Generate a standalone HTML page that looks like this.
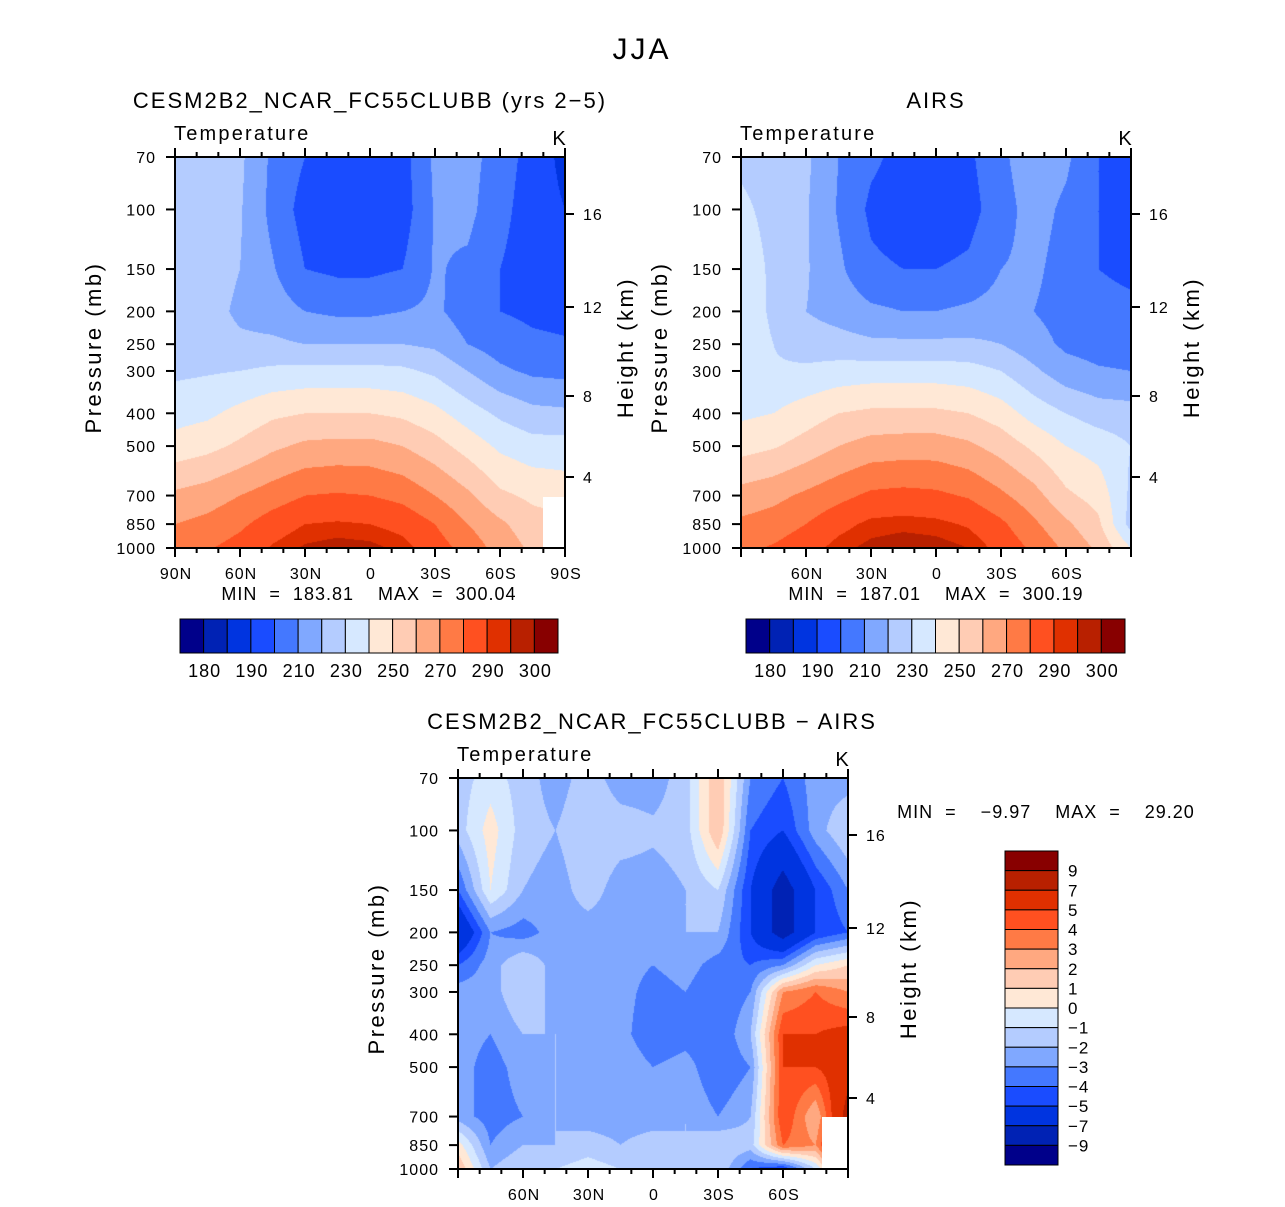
<!DOCTYPE html>
<html><head><meta charset="utf-8"><style>
body{margin:0;background:#fff;width:1285px;height:1207px;overflow:hidden;position:relative;font-family:"Liberation Sans",sans-serif}
canvas{position:absolute}
svg{position:absolute;left:0;top:0}
text{font-family:"Liberation Sans",sans-serif;fill:#000;white-space:pre}
</style></head><body>
<canvas id="c1" width="390" height="391" style="left:175px;top:157px"></canvas>
<canvas id="c2" width="390" height="391" style="left:741px;top:157px"></canvas>
<canvas id="c3" width="390" height="391" style="left:458px;top:778px"></canvas>
<svg id="svg" width="1285" height="1207"></svg>
<script>
// ---- data ----
const lats = [90,75,60,45,30,15,0,-15,-30,-45,-60,-75,-90];
const plevs = [70,100,150,200,250,300,400,500,700,850,1000];
const tempLevels = [180,185,190,200,210,220,230,240,250,260,270,280,290,295,300];
const tempTickLabels = ["180","190","210","230","250","270","290","300"];
const diffLevels = [-9,-7,-5,-4,-3,-2,-1,0,1,2,3,4,5,7,9];
const diffTickLabels = ["9","7","5","4","3","2","1","0","−1","−2","−3","−4","−5","−7","−9"];
const modelT = [
[225,225,222,208,200,195,194,196,212,214,205,196,187],
[225,225,221,207,196,193,192,195,211,213,203,195,190],
[225,225,220,211,200,198,198,200,211,208,200,195,194],
[225,224,218,215,210,208,208,210,212,205,200,198,197],
[226,225,222,222,220,220,220,220,218,210,205,202,201],
[228,229,230,232,233,233,233,232,228,220,212,208,207],
[236,238,243,248,250,250,250,248,243,235,228,223,222],
[244,247,252,258,262,263,263,260,254,246,238,234,234],
[262,265,270,275,280,281,280,277,270,262,252,248,246],
[270,273,278,285,290,291,290,287,280,270,262,254,252],
[276,279,284,291,296,298,297,293,285,276,266,258,256]];
const airsT = [
[228,226,222,210,202,197,196,198,208,216,212,200,192],
[232,227,221,209,198,194,193,196,206,214,208,200,195],
[236,228,221,212,202,200,200,202,210,212,206,200,198],
[237,228,220,216,212,210,210,212,214,210,206,203,202],
[236,230,225,224,222,222,222,222,220,214,208,206,205],
[234,231,232,234,235,235,235,234,230,222,214,211,210],
[238,240,245,250,252,252,252,250,245,236,230,225,224],
[246,249,254,260,264,265,265,262,256,248,240,236,230],
[264,267,272,277,282,283,282,279,272,264,252,246,228],
[272,275,280,287,292,293,292,289,282,272,262,252,226],
[278,281,286,293,297,299,298,295,287,278,268,258,240]];
const diffT = [
[-1.5,-0.5,-1.5,-2.5,-1.5,-2.5,-2.5,-1.5,2,-3,-4,-2.5,-2.5],
[-1.5,0.5,-1.5,-2,-1.2,-1.5,-1.8,-1.5,2,-4,-5,-2.5,-1],
[-4,0,-2,-2.5,-1.5,-2.5,-2.5,-2,-1,-5,-8,-5,-3],
[-7,-3,-3.5,-2.5,-2.5,-2.5,-2.5,-2,-2,-5,-8,-5,-4],
[-4,-2.5,-1,-2.5,-2.5,-2.5,-3,-2.5,-3.5,-4,-3,0,1],
[-2.5,-2.5,-1,-2.5,-2,-2.5,-3.5,-3,-4,-3,3,4,3],
[-2.5,-3,-2,-2,-2.5,-2.5,-4,-3.5,-4,-2,5,5,5.5],
[-2.5,-3.5,-2.5,-2,-2,-2,-3,-2.5,-4,-3,5,5,6],
[-2.5,-3.5,-3,-2,-2.5,-2.5,-2.5,-2,-3,-2,5,2,8],
[0.5,-3,-2,-2,-1.5,-2,-1.5,-2,-1,-1.5,4,3,9],
[2,-2,-1,-1,-0.5,-1,-1,-1,-1,-4,-5,-1,5]];
const palette = ["#00008a","#0022b4","#0034e0","#1a4cff","#4478ff","#80a8ff","#b4ccff","#d6e8ff","#ffe8d6","#ffccb4","#ffa880","#ff7a45","#ff5020","#e03000","#b82000","#880000"];

// ---- scales ----
const W=390,H=391;
function xOfLat(lat){return (90-lat)/180*W;}
function yOfP(p){return Math.log(p/70)/Math.log(1000/70)*H;}
function rgb(h){return [parseInt(h.substr(1,2),16),parseInt(h.substr(3,2),16),parseInt(h.substr(5,2),16)];}
const pal = palette.map(rgb);
function colorIdx(v,levels){let i=0;while(i<levels.length&&v>=levels[i])i++;return i;}
function drawField(id,grid,levels){
  const cv=document.getElementById(id),ctx=cv.getContext('2d');
  const img=ctx.createImageData(W,H);
  const ly=plevs.map(yOfP), lx=lats.map(xOfLat);
  for(let py=0;py<H;py++){
    let r=0;while(r<plevs.length-2&&py+0.5>ly[r+1])r++;
    const ty=Math.min(1,Math.max(0,(py+0.5-ly[r])/(ly[r+1]-ly[r])));
    for(let px=0;px<W;px++){
      let c=0;while(c<lats.length-2&&px+0.5>lx[c+1])c++;
      const tx=Math.min(1,Math.max(0,(px+0.5-lx[c])/(lx[c+1]-lx[c])));
      const v=(grid[r][c]*(1-tx)+grid[r][c+1]*tx)*(1-ty)+(grid[r+1][c]*(1-tx)+grid[r+1][c+1]*tx)*ty;
      const col=pal[colorIdx(v,levels)],k=(py*W+px)*4;
      img.data[k]=col[0];img.data[k+1]=col[1];img.data[k+2]=col[2];img.data[k+3]=255;
    }
  }
  ctx.putImageData(img,0,0);
}
drawField('c1',modelT,tempLevels);
drawField('c2',airsT,tempLevels);
drawField('c3',diffT,diffLevels);

// ---- svg ----
const svg=document.getElementById('svg'),NS='http://www.w3.org/2000/svg';
function el(tag,attrs,txt){const e=document.createElementNS(NS,tag);for(const k in attrs)e.setAttribute(k,attrs[k]);if(txt!==undefined)e.textContent=txt;svg.appendChild(e);return e;}
function txt(x,y,s,size,anchor,name,rot,ls){const t=el('text',{x:x,y:y,'font-size':size,'text-anchor':anchor||'middle','letter-spacing':ls||0},s);
  if(rot)t.setAttribute('transform','rotate(-90 '+x+' '+y+')');
  
  return t;}
const latLabels={90:"90N",60:"60N",30:"30N",0:"0","-30":"30S","-60":"60S","-90":"90S"};
const pLabels=[70,100,150,200,250,300,400,500,700,850,1000];
const kmTicks=[4,8,12,16];
const kmFrac=[320/391,239/391,150/391,57/391];
function panel(x0,y0,title,showEnds,tx){
  if(title)txt(tx,y0-49,title,22,'middle','panel-title',false,2);
  txt(x0-1,y0-17,"Temperature",20,'start','variable-label',false,2.2);
  txt(x0+W-6,y0-12,"K",20,'middle','units-label');
  for(let lat=90;lat>=-90;lat-=10){
    const x=x0+xOfLat(lat),maj=lat%30===0,L=maj?9:5;
    const t1=el('line',{x1:x,y1:y0,x2:x,y2:y0-L,stroke:'#000','stroke-width':2});
    
    const t2=el('line',{x1:x,y1:y0+H,x2:x,y2:y0+H+L,stroke:'#000','stroke-width':2});
    
    if(maj&&(showEnds||Math.abs(lat)<90))txt(x+1,y0+H+31,latLabels[lat],16,'middle','x-tick-label',false,1);
  }
  pLabels.forEach(p=>{const y=y0+yOfP(p);
    const t=el('line',{x1:x0,y1:y,x2:x0-9,y2:y,stroke:'#000','stroke-width':2});
    
    txt(x0-19,y+6,String(p),16,'end','y-tick-label',false,1);});
  kmTicks.forEach((k,i)=>{const y=y0+kmFrac[i]*H;
    const t=el('line',{x1:x0+W,y1:y,x2:x0+W+9,y2:y,stroke:'#000','stroke-width':2});
    
    txt(x0+W+18,y+6,String(k),16,'start','height-tick-label',false,1);});
  txt(x0-74,y0+H/2-5,"Pressure (mb)",22,'middle','y-axis-title',true,2.5);
  txt(x0+W+68,y0+H/2-5,"Height (km)",22,'middle','height-axis-title',true,2.5);
}
txt(642,59,"JJA",30,'middle','figure-title',false,3);
panel(175,157,"CESM2B2_NCAR_FC55CLUBB (yrs 2−5)",true,370);
panel(741,157,"AIRS",false,936);
panel(458,778,"CESM2B2_NCAR_FC55CLUBB − AIRS",false,652);
// missing-data masks
[[543,497,22,51],[822,1117,26,51]].forEach(r=>{const m=el('rect',{x:r[0],y:r[1],width:r[2],height:r[3],fill:'#fff'});
  });
[[175,157],[741,157],[458,778]].forEach(p=>{const f=el('rect',{x:p[0],y:p[1],width:W,height:H,fill:'none',stroke:'#000','stroke-width':2});
  });
txt(369,600,"MIN  =  183.81    MAX  =  300.04",18,'middle','min-max-label',false,1);
txt(936,600,"MIN  =  187.01    MAX  =  300.19",18,'middle','min-max-label',false,1);
txt(1046,818,"MIN  =    −9.97    MAX  =    29.20",18,'middle','min-max-label',false,1);
// horizontal colorbars
function hbar(x0,y0,w,h){
  const bw=w/palette.length;
  palette.forEach((c,i)=>{const r=el('rect',{x:x0+i*bw,y:y0,width:bw,height:h,fill:c,stroke:'#000','stroke-width':1});
    });
  tempTickLabels.forEach((s,i)=>txt(x0+(2*i+1)*bw+1,y0+h+24,s,18,'middle','colorbar-label',false,1));
}
hbar(180,619,378,34);
hbar(746,619,379,34);
// vertical colorbar
(function(){const x0=1005,y0=851,w=53,h=314,bh=h/palette.length;
  palette.slice().reverse().forEach((c,i)=>{const r=el('rect',{x:x0,y:y0+i*bh,width:w,height:bh,fill:c,stroke:'#000','stroke-width':1});
    });
  diffTickLabels.forEach((s,i)=>txt(x0+w+10,y0+(i+1)*bh+6,s,17,'start','colorbar-label',false,1));
})();
</script>
</body></html>
